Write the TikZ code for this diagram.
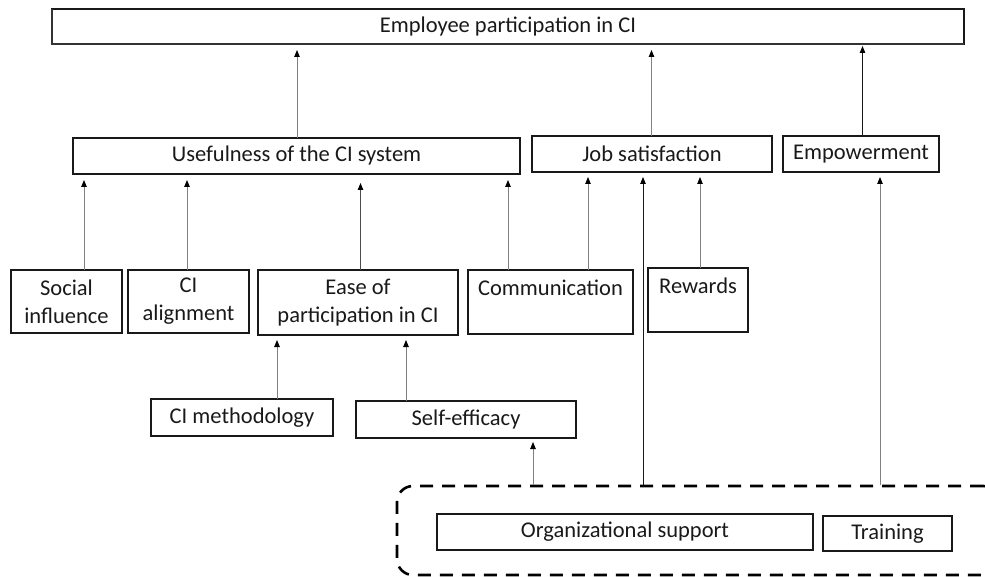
\documentclass[tikz,border=0pt]{standalone}
\usepackage{fontspec}
\setmainfont{Carlito}
\usetikzlibrary{arrows.meta}
\begin{document}
\begin{tikzpicture}[x=1pt,y=-1pt,
  box/.style={draw=black!90, line width=1.1pt, inner sep=0pt, outer sep=0pt, align=center,
    text=black!90, font=\fontsize{22.5}{28}\selectfont},
  arr/.style={draw=black!50, line width=0.9pt, -{Triangle[length=7pt,width=5.5pt,color=black]}},
  arrk/.style={arr, draw=black!90},
  grpbox/.style={draw=black, line width=2.6pt, dash pattern=on 13pt off 9pt, rounded corners=16pt, inner sep=0pt}]
\useasboundingbox (0,0) rectangle (985,577);
\clip (0,0) rectangle (985,577);
% boxes
\node[box, minimum width=912pt, minimum height=35pt] (top) at (508,26.5) {Employee participation in CI};
\draw[line width=2.2pt, black!80] (top.north west) -- (top.south west) -- (top.south east);
\node[box, minimum width=447pt, minimum height=36pt] (use) at (296.5,156) {Usefulness of the CI system};
\node[box, minimum width=240pt, minimum height=36pt] (job) at (652,154) {Job satisfaction};
\node[box, minimum width=156pt, minimum height=36pt] (emp) at (861,154) {Empowerment};
\node[box, minimum width=111pt, minimum height=63pt] (soc) at (66.5,301.5) {Social\\influence};
\node[box, minimum width=121pt, minimum height=63pt] (cia) at (188.5,301.5) {CI\\alignment};
\node[box, minimum width=200pt, minimum height=65pt] (ease) at (358,302.5) {Ease of\\participation in CI};
\node[box, minimum width=165pt, minimum height=64pt] (com) at (550.5,302) {Communication\\\mbox{}};
\node[box, minimum width=100pt, minimum height=64pt] (rew) at (698,300) {Rewards\\\mbox{}};
\node[box, minimum width=182pt, minimum height=37pt] (meth) at (242,417.5) {CI methodology};
\node[box, minimum width=220pt, minimum height=37pt] (self) at (466,419.5) {Self-efficacy};
\node[grpbox, minimum width=602pt, minimum height=89pt] (grp) at (698,530.5) {};
\node[box, minimum width=376pt, minimum height=36pt] (org) at (625,532) {Organizational support};
\node[box, minimum width=129pt, minimum height=35pt] (tra) at (887.5,533.5) {Training};
% arrow columns
\coordinate (x297) at (297,0);
\coordinate (x651) at (651.5,0);
\coordinate (x862) at (862.5,0);
\coordinate (x84) at (84,0);
\coordinate (x187) at (187,0);
\coordinate (x360) at (360.5,0);
\coordinate (x508) at (508,0);
\coordinate (x588) at (588,0);
\coordinate (x643) at (643,0);
\coordinate (x700) at (700,0);
\coordinate (x880) at (880,0);
\coordinate (x277) at (277,0);
\coordinate (x406) at (406,0);
\coordinate (x533) at (533,0);
% arrows
\draw[arr, shorten >=6pt] (x297 |- use.north) -- (x297 |- top.south);
\draw[arr, shorten >=6pt] (x651 |- job.north) -- (x651 |- top.south);
\draw[arrk, shorten >=2pt] (x862 |- emp.north) -- (x862 |- top.south);
\draw[arr, shorten >=6pt] (x84 |- soc.north) -- (x84 |- use.south);
\draw[arr, shorten >=6pt] (x187 |- cia.north) -- (x187 |- use.south);
\draw[arr, draw=black!70, shorten >=9pt] (x360 |- ease.north) -- (x360 |- use.south);
\draw[arr, shorten >=6pt] (x508 |- com.north) -- (x508 |- use.south);
\draw[arr, shorten >=5pt] (x588 |- com.north) -- (x588 |- job.south);
\draw[arrk, shorten >=5pt] (x643 |- grp.north) -- (x643 |- job.south);
\draw[arr, shorten >=5pt] (x700 |- rew.north) -- (x700 |- job.south);
\draw[arr, shorten >=5pt] (x880 |- grp.north) -- (x880 |- emp.south);
\draw[arr, shorten >=5pt] (x277 |- meth.north) -- (x277 |- ease.south);
\draw[arr, shorten >=5pt] (x406 |- self.north) -- (x406 |- ease.south);
\draw[arr, shorten >=4pt] (x533 |- grp.north) -- (x533 |- self.south);
\end{tikzpicture}
\end{document}
